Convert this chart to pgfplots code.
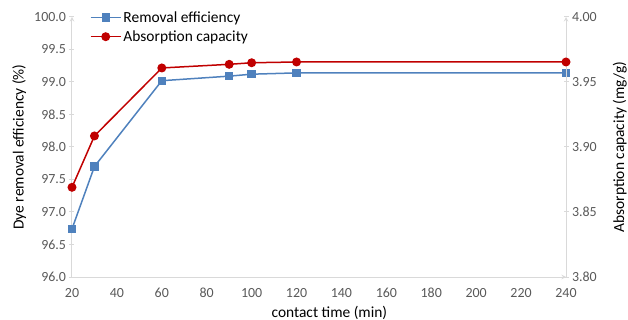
\documentclass[border=0pt]{standalone}
\usepackage{fontspec}
\setmainfont{Carlito}
\usepackage{pgfplots}
\pgfplotsset{compat=1.18}
\definecolor{cblue}{RGB}{79,129,189}
\definecolor{cred}{RGB}{192,0,0}
\definecolor{cgrid}{RGB}{217,217,217}
\definecolor{ctick}{RGB}{89,89,89}
\begin{document}
\begin{tikzpicture}
\pgfplotsset{
  common/.style={
    scale only axis, width=494bp, height=260bp, xmin=20, xmax=240,
    /pgf/number format/assume math mode=true,
    tick label style={font=\fontsize{14}{16}\selectfont, color=ctick},
    label style={font=\fontsize{15.5}{18}\selectfont, color=black},
    axis line style={-, cgrid, line width=1bp},
    tick style={cgrid, line width=1bp},
    major tick length=5bp, tick align=outside,
  }
}
\begin{axis}[common,
  axis x line=bottom, axis y line=left,
  ymin=96, ymax=100, ytick={96,96.5,97,97.5,98,98.5,99,99.5,100},
  xtick={20,40,...,240},
  xtick style={draw=none},
  xticklabel style={yshift=-5bp},
  yticklabel style={/pgf/number format/.cd, fixed, fixed zerofill, precision=1},
  xlabel={contact time (min)},
  ylabel={Dye removal efficiency (\%)},
  xlabel style={at={(axis description cs:0.521,-0.138)}, anchor=center},
  ylabel style={at={(axis description cs:-0.107,0.5)}, anchor=center, rotate=0},
  legend style={at={(axis description cs:0.036,1.03)}, anchor=north west, draw=none, fill=none,
    font=\fontsize{15.5}{18}\selectfont, row sep=3bp, inner sep=0pt},
  legend cell align=left,
  legend image code/.code={\draw[mark repeat=2,mark phase=2] plot coordinates {(0bp,0bp)(15bp,0bp)(30bp,0bp)};},
]
\addplot[cblue, line width=1.5bp, mark=square*, mark size=3.4bp, mark options={solid, fill=cblue, draw=cblue}]
  coordinates {(20,96.74) (30,97.70) (60,99.02) (90,99.09) (100,99.12) (120,99.14) (240,99.14)};
\addlegendentry{Removal efficiency}
\addlegendimage{cred, line width=1.5bp, mark=*, mark size=3.7bp, mark options={solid, fill=cred, draw=cred}}
\addlegendentry{Absorption capacity}
\coordinate (bl) at (axis description cs:0,0);
\coordinate (tr) at (axis description cs:1,1);
\end{axis}
\begin{axis}[common,
  axis x line=none, axis y line=right,
  ymin=3.8, ymax=4.0, ytick={3.80,3.85,3.90,3.95,4.00},
  yticklabel style={/pgf/number format/.cd, fixed, fixed zerofill, precision=2},
  ylabel={Absorption capacity (mg/g)},
  ylabel style={at={(axis description cs:1.109,0.5)}, anchor=center, font=\fontsize{15.5}{18}\selectfont, color=black},
]
\addplot[cred, line width=1.5bp, mark=*, mark size=3.7bp, mark options={solid, fill=cred, draw=cred}]
  coordinates {(20,3.869) (30,3.9085) (60,3.9608) (90,3.9636) (100,3.9648) (120,3.9654) (240,3.9654)};
\end{axis}
\pgfresetboundingbox
\useasboundingbox ([shift={(-72bp,-43bp)}]bl) rectangle ([shift={(62bp,17bp)}]tr);
\end{tikzpicture}
\end{document}
